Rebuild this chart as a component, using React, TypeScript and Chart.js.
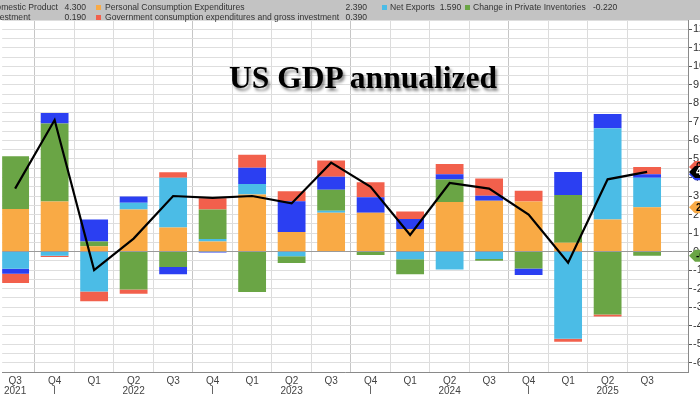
import { useEffect, useRef } from 'react';
import { Chart, registerables } from 'chart.js';

Chart.register(...registerables);

// ---- data ----
const quarters = ['Q3', 'Q4', 'Q1', 'Q2', 'Q3', 'Q4', 'Q1', 'Q2', 'Q3', 'Q4', 'Q1', 'Q2', 'Q3', 'Q4', 'Q1', 'Q2', 'Q3'];
const years = ['2021', '2021', '2022', '2022', '2022', '2022', '2023', '2023', '2023', '2023', '2024', '2024', '2024', '2024', '2025', '2025', '2025'];
const gdp = [3.4, 7.1, -1.0, 0.7, 3.0, 2.9, 3.0, 2.6, 4.8, 3.5, 0.9, 3.7, 3.4, 2.0, -0.6, 3.9, 4.3];
const pce = [2.3, 2.7, 0.29, 2.27, 1.3, 0.54, 3.08, 1.06, 2.09, 2.09, 1.22, 2.68, 2.75, 2.7, 0.47, 1.73, 2.39];
const netExports = [-0.93, -0.22, -2.16, 0.37, 2.69, 0.14, 0.57, -0.25, 0.12, 0, -0.41, -0.97, -0.4, 0, -4.71, 4.93, 1.59];
const inventories = [2.84, 4.21, 0.25, -2.05, -0.83, 1.59, -2.18, -0.36, 1.13, -0.18, -0.81, 1.21, -0.1, -0.92, 2.59, -3.4, -0.22];
const fixedInvestment = [-0.26, 0.57, 1.19, 0.33, -0.39, -0.05, 0.88, 1.66, 0.7, 0.84, 0.54, 0.28, 0.27, -0.34, 1.24, 0.77, 0.19];
const government = [-0.5, -0.07, -0.52, -0.22, 0.29, 0.61, 0.7, 0.53, 0.87, 0.81, 0.4, 0.56, 0.92, 0.59, -0.16, -0.11, 0.39];

const seriesNames = {
  gdp: 'Gross Domestic Product',
  pce: 'Personal Consumption Expenditures',
  net: 'Net Exports',
  inv: 'Change in Private Inventories',
  fix: 'Fixed Investment',
  gov: 'Government consumption expenditures and gross investment',
};

const COLORS = {
  gdp: '#000000',
  pce: '#f9aa45',
  net: '#4bbce6',
  inv: '#6aa545',
  fix: '#2b3ff2',
  gov: '#f2604c',
};

const FONT = '"Liberation Sans", Arial, sans-serif';

const toPts = (arr: number[]) => arr.map((v, i) => ({ x: i, y: v }));

const last = quarters.length - 1;

const tagPlugin = {
  id: 'lastValueTags',
  afterDraw(chart: any) {
    const { ctx, chartArea, scales } = chart;
    const y = scales.y;
    const x0 = chartArea.right;
    const stackFix = pce[last] + netExports[last] + fixedInvestment[last];
    const stackGov = stackFix + government[last];
    const tags = [
      { v: stackFix, label: fixedInvestment[last], bg: COLORS.fix, fg: '#fff' },
      { v: stackGov, label: government[last], bg: COLORS.gov, fg: '#000' },
      { v: inventories[last], label: inventories[last], bg: COLORS.inv, fg: '#000' },
      { v: pce[last], label: pce[last], bg: COLORS.pce, fg: '#000' },
      { v: gdp[last], label: gdp[last], bg: COLORS.gdp, fg: '#fff' },
    ];
    ctx.save();
    for (const t of tags) {
      const py = y.getPixelForValue(t.v);
      ctx.beginPath();
      ctx.moveTo(x0 + 1, py);
      ctx.lineTo(x0 + 7, py - 6);
      ctx.lineTo(x0 + 46, py - 6);
      ctx.lineTo(x0 + 46, py + 6);
      ctx.lineTo(x0 + 7, py + 6);
      ctx.closePath();
      ctx.fillStyle = t.bg;
      ctx.fill();
      ctx.fillStyle = t.fg;
      ctx.font = `bold 10px ${FONT}`;
      ctx.textBaseline = 'middle';
      ctx.textAlign = 'left';
      ctx.fillText(t.label.toFixed(3), x0 + 8, py + 0.5);
    }
    ctx.restore();
  },
};

export default function App() {
  const ref = useRef<HTMLCanvasElement | null>(null);

  useEffect(() => {
    if (!ref.current) return;
    const barCommon = {
      type: 'bar' as const,
      stack: 'gdp',
      barPercentage: 0.88,
      categoryPercentage: 0.8,
      borderWidth: 0,
      order: 2,
    };
    const chart = new Chart(ref.current, {
      type: 'bar',
      data: {
        datasets: [
          {
            type: 'line',
            label: seriesNames.gdp,
            data: toPts(gdp),
            borderColor: COLORS.gdp,
            borderWidth: 2.2,
            pointRadius: 0,
            tension: 0,
            stack: 'line',
            order: 1,
          } as any,
          { ...barCommon, label: seriesNames.pce, data: toPts(pce), backgroundColor: COLORS.pce },
          { ...barCommon, label: seriesNames.net, data: toPts(netExports), backgroundColor: COLORS.net },
          { ...barCommon, label: seriesNames.inv, data: toPts(inventories), backgroundColor: COLORS.inv },
          { ...barCommon, label: seriesNames.fix, data: toPts(fixedInvestment), backgroundColor: COLORS.fix },
          { ...barCommon, label: seriesNames.gov, data: toPts(government), backgroundColor: COLORS.gov },
        ],
      },
      options: {
        responsive: false,
        animation: false,
        devicePixelRatio: 1,
        layout: { padding: { top: 20, left: 0, right: 0, bottom: 0 } },
        plugins: {
          legend: { display: false },
          tooltip: { enabled: false },
          title: { display: false },
        },
        scales: {
          x: {
            type: 'linear',
            min: -0.328,
            max: 17.035,
            offset: false,
            afterFit: (s: any) => {
              s.height = 28;
            },
            grid: {
              drawTicks: false,
              color: (c: any) => {
                const v = c.tick?.value;
                if (v === undefined || v > last || v < 0) return 'rgba(0,0,0,0)';
                return quarters[v] === 'Q4' ? '#c6c6c6' : '#dcdcdc';
              },
              lineWidth: 1,
            },
            border: { color: '#8a8a8a', width: 1 },
            ticks: {
              stepSize: 1,
              includeBounds: false,
              autoSkip: false,
              maxRotation: 0,
              padding: 4,
              color: '#444',
              font: { family: FONT, size: 10, lineHeight: 1.0 },
              callback: (value: any) => {
                const i = Number(value);
                if (!Number.isInteger(i) || i < 0 || i > last) return '';
                const q = quarters[i];
                let second = '';
                if (i === 0 || q === 'Q2') second = years[i];
                else if (q === 'Q4') second = '|';
                return [q, second];
              },
            },
          },
          y: {
            type: 'linear',
            position: 'right',
            stacked: true,
            min: -6.5,
            max: 12.5,
            afterFit: (s: any) => {
              s.width = 50;
            },
            grid: {
              color: (c: any) => (c.tick?.value === 0 ? '#9a9a9a' : '#dedede'),
              tickLength: 4,
              tickColor: (c: any) => (Number.isInteger(c.tick?.value) ? '#555' : 'rgba(0,0,0,0)'),
            },
            border: { color: '#8a8a8a', width: 1 },
            ticks: {
              stepSize: 0.5,
              autoSkip: false,
              padding: 1,
              color: '#333',
              font: { family: FONT, size: 11 },
              callback: (value: any) => (Number.isInteger(Number(value)) ? Number(value).toFixed(3) : ''),
            },
          },
        },
      } as any,
      plugins: [tagPlugin],
    });
    return () => chart.destroy();
  }, []);

  const legendText: React.CSSProperties = {
    position: 'absolute',
    fontFamily: FONT,
    fontSize: 8.6,
    lineHeight: '10px',
    color: '#333',
    whiteSpace: 'nowrap',
  };
  const sq = (left: number, top: number, color: string): React.CSSProperties => ({
    position: 'absolute',
    left,
    top,
    width: 5,
    height: 5,
    background: color,
  });

  return (
    <div
      style={{
        position: 'absolute',
        left: 0,
        top: 0,
        width: 700,
        height: 394,
        overflow: 'hidden',
        background: '#ffffff',
      }}
    >
      <canvas ref={ref} width={738} height={400} style={{ position: 'absolute', left: 0, top: 0 }} />
      <div style={{ position: 'absolute', left: 0, top: 0, width: 700, height: 20, background: '#c3c3c3' }} />
      {/* legend column 1 */}
      <div style={{ ...legendText, right: 642, top: 2, textAlign: 'left' }}>
        <div>{seriesNames.gdp}</div>
        <div>{seriesNames.fix}</div>
      </div>
      <div style={{ ...legendText, right: 614, top: 2, textAlign: 'right' }}>
        <div>{gdp[last].toFixed(3)}</div>
        <div>{fixedInvestment[last].toFixed(3)}</div>
      </div>
      <div style={sq(96, 5, COLORS.pce)} />
      <div style={sq(96, 15, COLORS.gov)} />
      <div style={{ ...legendText, left: 105, top: 2 }}>
        <div>{seriesNames.pce}</div>
        <div>{seriesNames.gov}</div>
      </div>
      <div style={{ ...legendText, right: 333, top: 2, textAlign: 'right' }}>
        <div>{pce[last].toFixed(3)}</div>
        <div>{government[last].toFixed(3)}</div>
      </div>
      <div style={sq(382, 5, COLORS.net)} />
      <div style={{ ...legendText, left: 390, top: 2 }}>
        {seriesNames.net}&nbsp;&nbsp;{netExports[last].toFixed(3)}
      </div>
      <div style={sq(465, 5, COLORS.inv)} />
      <div style={{ ...legendText, left: 473, top: 2 }}>
        {seriesNames.inv}&nbsp;&nbsp;&nbsp;{inventories[last].toFixed(3)}
      </div>
      {/* title */}
      <div
        style={{
          position: 'absolute',
          left: 0,
          top: 62,
          width: 726,
          textAlign: 'center',
          fontFamily: '"Liberation Serif", "Times New Roman", serif',
          fontWeight: 'bold',
          fontSize: 31.5,
          lineHeight: '31px',
          color: '#000',
          textShadow: '2px 3px 3px rgba(0,0,0,0.45)',
          whiteSpace: 'nowrap',
        }}
      >
        US GDP annualized
      </div>
    </div>
  );
}
